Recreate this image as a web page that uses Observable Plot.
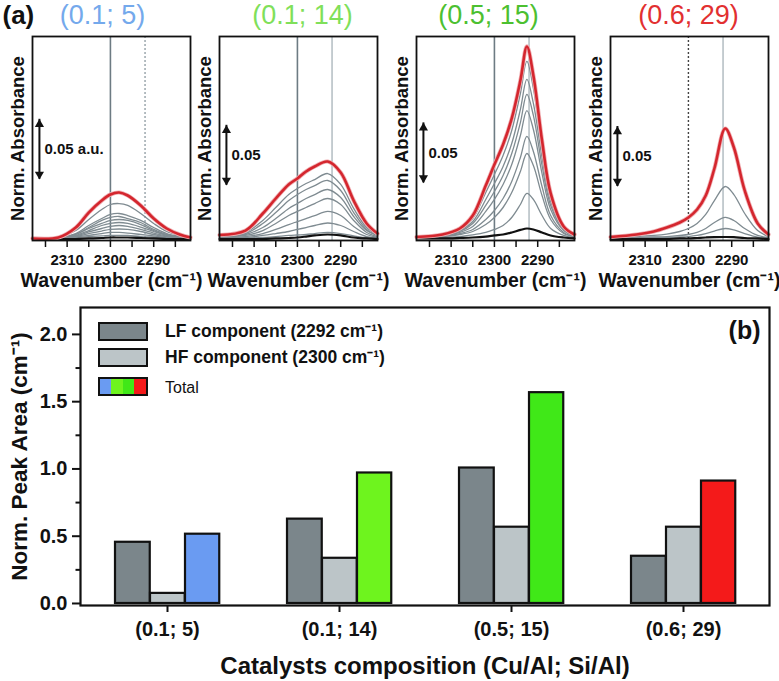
<!DOCTYPE html>
<html><head><meta charset="utf-8">
<script src="https://cdn.jsdelivr.net/npm/d3@7"></script>
<script src="https://cdn.jsdelivr.net/npm/@observablehq/plot@0.6"></script>
<style>
body{margin:0;background:#fff;font-family:"Liberation Sans",Arial,sans-serif;}
#root{position:relative;width:779px;height:681px;overflow:hidden;background:#fff;}
#root svg{position:absolute;overflow:visible;}
.sw{position:absolute;left:98px;width:46px;height:15px;border:2px solid #111;}
.lt{position:absolute;left:165px;font-size:17.5px;font-weight:bold;color:#111;white-space:nowrap;line-height:1;}
</style></head><body><div id="root"></div>
<script>
// ---------- (a) spectra: wavenumber grids (cm-1) ----------
const gridA = [2318, 2312, 2308, 2305, 2302, 2300, 2298, 2296, 2293, 2290, 2287, 2284, 2281.5];
const gridC = [2318, 2312, 2308, 2305, 2302, 2300, 2298, 2296, 2294, 2292.5, 2291, 2289, 2287, 2284, 2281.5];
const gridD = [2318, 2312, 2308, 2305, 2302, 2300, 2298, 2296, 2294, 2291.5, 2289.5, 2287, 2284, 2281.5];
const xTicks = [2315, 2310, 2305, 2300, 2295, 2290, 2285];

// absorbance in milli a.u. (0.05 a.u. = 50)
const p1Red = [1.7,2.5,10.8,23.3,33.3,38.3,40,37.5,29.2,18.3,10,5,2.5];
const p1Grays = [
  [1.7,2.5,8.3,17.5,25.8,30,30.8,29.2,22.5,14.2,7.5,4.2,2.5],
  [1.7,2.1,5.8,12.5,18.3,21.7,22.5,20.8,16.7,10.8,5.8,3.3,2.1],
  [1.7,2.1,5.4,10.8,16.7,19.2,20,18.3,15,9.2,5,3.3,2.1],
  [1.7,2.1,5,10,14.2,16.7,17.5,16.7,13.3,8.3,4.6,2.9,2.1],
  [1.7,2.1,4.2,8.3,12.5,14.2,15,14.2,11.2,7.5,4.2,2.5,2.1],
  [1.7,2.1,3.8,7.1,10,11.7,12.5,11.7,9.2,6.2,3.8,2.5,2.1],
  [1.7,2.1,3.3,5.8,7.9,9.2,9.6,9.2,7.5,5,3.3,2.5,2.1],
  [1.7,2.1,2.9,4.2,5.8,6.7,6.7,6.2,5,3.8,2.5,2.1,1.7],
  [1.7,1.7,2.5,3.3,3.8,4.2,4.2,4.2,3.3,2.9,2.1,1.7,1.7]
];
const p1Black = [1.2,1.2,1.2,1.7,2.1,2.5,2.5,2.5,2.1,1.7,1.2,1.2,1.2];

const p2Red = [4.6,8.3,22.5,35,46.7,51.7,57.5,61.7,65.8,56.7,33.3,14.2,5.8];
const p2Grays = [
  [4.2,6.7,16.7,27.5,38.3,43.3,47.5,50.8,55.8,46.7,26.7,10.8,5],
  [3.8,5.8,14.2,23.3,33.3,38.3,42.5,45.8,50,41.7,23.3,9.2,4.2],
  [3.3,5,10.8,18.3,26.7,30.8,35,38.3,42.5,35.8,20,8.3,4.2],
  [2.9,4.2,8.3,14.2,20.8,24.2,27.5,30.8,35,30,16.7,6.7,3.3],
  [2.5,3.3,5.8,9.2,13.3,15.8,18.3,20.8,24.2,20.8,11.7,5,2.5],
  [2.1,2.5,4.2,5.8,7.5,9.2,10.8,12.5,14.6,12.5,7.5,3.3,2.1],
  [1.7,2.1,2.5,3.3,4.2,4.6,5,5.8,6.7,5.8,3.8,2.1,1.7]
];
const p2Black = [1.2,1.2,1.2,1.7,2.1,2.5,3.3,4.2,5,4.2,2.5,1.7,1.2];

const p3Red = [2.9,5,10,20.8,45.8,63.3,80,101.7,133.3,161.7,137.5,83.3,39.2,11.7,5];
const p3Grays = [
  [2.9,4.6,9.2,18.3,40,55,70.8,91.7,122.5,149.2,126.7,76.7,35.8,10.8,4.6],
  [2.5,4.2,8.3,15.8,34.2,47.5,61.7,80.8,109.2,134.2,114.2,69.2,32.5,10,4.2],
  [2.5,4.2,7.5,14.2,29.2,40.8,54.2,72.5,98.3,121.7,104.2,62.5,29.2,9.2,4.2],
  [2.5,3.8,6.7,11.7,24.2,34.2,46.7,63.3,87.5,108.3,92.5,55.8,25.8,8.3,3.8],
  [2.5,3.3,5.8,9.2,17.5,25,35,49.2,69.2,86.7,74.2,45,20.8,6.7,3.3],
  [2.5,3.3,5,7.5,13.3,19.2,27.5,40,57.5,72.5,62.5,37.5,17.5,5.8,3.3],
  [2.1,2.5,3.3,4.6,6.7,9.2,12.5,19.2,30,39.2,34.2,20.8,10,4.2,2.5]
];
const p3Black = [1.7,1.7,2.1,2.5,3.3,4.2,5,6.7,8.8,10,9.2,6.7,4.2,2.5,1.7];

const p4Red = [2.9,5,7.5,10.8,15,19.2,25.8,37.5,60,93.3,77.5,41.7,14.2,5];
const p4Grays = [
  [2.5,3.3,4.2,5.4,7.5,10,14.2,21.7,33.3,45,38.3,22.5,8.3,3.3],
  [2.1,2.5,2.9,3.3,4.2,5,6.7,10,15,19.2,16.7,10,4.2,2.5],
  [1.7,2.1,2.5,2.5,2.9,3.3,4.2,5.8,7.9,10,8.8,5.8,2.9,2.1]
];
const p4Black = [1.2,1.2,1.2,1.2,1.7,1.7,2.1,2.5,2.8,2.9,2.8,2.1,1.7,1.2];

const panelTitles = ["(0.1; 5)", "(0.1; 14)", "(0.5; 15)", "(0.6; 29)"];
const scaleBarLabels = ["0.05 a.u.", "0.05", "0.05", "0.05"];
const scaleBarLow = [51, 46, 48, 45];   // mAU, bar spans 50 mAU = 0.05 a.u.
const scaleBarSpan = 50;

// ---------- (b) peak areas ----------
const categories = ["(0.1; 5)", "(0.1; 14)", "(0.5; 15)", "(0.6; 29)"];
const lfArea = [0.455, 0.627, 1.007, 0.351];
const hfArea = [0.075, 0.336, 0.567, 0.567];
const totalArea = [0.515, 0.970, 1.567, 0.910];
const seriesLabels = ["LF component (2292 cm⁻¹)", "HF component (2300 cm⁻¹)", "Total"];

// ---------- styles ----------
const FONT = '"Liberation Sans", Arial, sans-serif';
const titleColors = ["#74a9ec", "#7fe05a", "#4cc030", "#e23030"];
const totalColors = ["#6a9bf2", "#6ef41e", "#40e818", "#f41a1a"];
const refStyles = {
  dark: {stroke: "#6d7b83", strokeWidth: 1.6},
  light: {stroke: "#b8c1c6", strokeWidth: 1.6},
  lightDot: {stroke: "#a3adb3", strokeWidth: 1.6, strokeDasharray: "2,2"},
  darkDot: {stroke: "#444", strokeWidth: 1.4, strokeDasharray: "2,2"}
};
const panelRefs = [
  [[2300, "dark"], [2292, "lightDot"]],
  [[2300, "dark"], [2292, "light"]],
  [[2300, "dark"], [2292, "light"]],
  [[2300, "darkDot"], [2292, "light"]]
];
const panelData = [
  {grid: gridA, red: p1Red, grays: p1Grays, black: p1Black},
  {grid: gridA, red: p2Red, grays: p2Grays, black: p2Black},
  {grid: gridC, red: p3Red, grays: p3Grays, black: p3Black},
  {grid: gridD, red: p4Red, grays: p4Grays, black: p4Black}
];
const panelLeft = [0, 187, 384, 578];
const titleDx = [-9, 4, -7, -1];

const root = document.getElementById("root");
const T = {lineAnchor: "middle", textAnchor: "middle"};

panelData.forEach((p, i) => {
  const rows = (arr, k) => arr.map((a, j) => ({wn: p.grid[j], a, k}));
  const grayRows = p.grays.flatMap((g, k) => rows(g, k));
  const lo = scaleBarLow[i], hi = lo + scaleBarSpan;
  const sbx = 2316.4;
  const svg = Plot.plot({
    width: 195, height: 290,
    marginLeft: 32, marginRight: 5, marginTop: 36, marginBottom: 50,
    style: {fontFamily: FONT, background: "none", overflow: "visible", color: "#111"},
    x: {domain: [2318, 2281.5], axis: null},
    y: {domain: [0, 170], axis: null},
    marks: [
      ...panelRefs[i].map(([x, st]) => Plot.ruleX([x], refStyles[st])),
      Plot.line(grayRows, {x: "wn", y: "a", z: "k", stroke: "#7f8b91", strokeWidth: 1.3, curve: "catmull-rom"}),
      Plot.line(rows(p.black, 0), {x: "wn", y: "a", stroke: "#111", strokeWidth: 2.2, curve: "catmull-rom"}),
      Plot.line(rows(p.red, 0), {x: "wn", y: "a", stroke: "#f0b0b4", strokeWidth: 4.2, curve: "catmull-rom"}),
      Plot.line(rows(p.red, 0), {x: "wn", y: "a", stroke: "#d4262e", strokeWidth: 2.6, curve: "catmull-rom"}),
      Plot.frame({stroke: "#111", strokeWidth: 1.8}),
      Plot.axisX({ticks: xTicks, tickFormat: d => d % 10 === 0 ? String(d) : "", tickSize: 7, tickPadding: 7,
        fontSize: 15, fontWeight: "bold", strokeWidth: 1.5, label: null}),
      Plot.text(["Wavenumber (cm⁻¹)"], {...T, frameAnchor: "bottom", dy: 40, fontSize: 19.5, fontWeight: "bold"}),
      Plot.text([panelTitles[i]], {...T, frameAnchor: "top", dx: titleDx[i], dy: -21, fill: titleColors[i], fontSize: 27, fontWeight: "normal"}),
      Plot.text(["Norm. Absorbance"], {...T, frameAnchor: "left", rotate: -90, dx: -14, fontSize: 18.5, fontWeight: "bold"}),
      Plot.ruleX([{x: sbx, lo, hi}], {x: "x", y1: "lo", y2: "hi", stroke: "#111", strokeWidth: 2}),
      Plot.dot([{x: sbx, y: hi}], {x: "x", y: "y", symbol: "triangle", r: 3.4, fill: "#111", stroke: "none", dy: 5}),
      Plot.dot([{x: sbx, y: lo}], {x: "x", y: "y", symbol: "triangle", r: 3.4, fill: "#111", stroke: "none", rotate: 180, dy: -5}),
      Plot.text([{x: sbx, y: (lo + hi) / 2, t: scaleBarLabels[i]}], {x: "x", y: "y", text: "t", dx: 5, textAnchor: "start", lineAnchor: "middle", fontSize: 15, fontWeight: "bold"}),
      ...(i === 0 ? [Plot.text(["(a)"], {frameAnchor: "top-left", dx: -30, dy: -21, textAnchor: "start", lineAnchor: "middle", fontSize: 26, fontWeight: "bold"})] : [])
    ]
  });
  svg.style.left = panelLeft[i] + "px";
  svg.style.top = "0px";
  root.appendChild(svg);
});

// ---------- bar chart ----------
const rowsOf = arr => categories.map((c, i) => ({cat: c, v: arr[i], i}));
const barStyle = {x: "cat", y: "v", stroke: "#111", strokeWidth: 2.2};
const bars = Plot.plot({
  width: 779, height: 391,
  marginLeft: 80, marginRight: 10, marginTop: 17, marginBottom: 76,
  style: {fontFamily: FONT, background: "none", overflow: "visible", color: "#111"},
  x: {type: "band", domain: categories, padding: 0, axis: null},
  y: {domain: [-0.015, 2.2], axis: null},
  marks: [
    Plot.barY(rowsOf(lfArea), {...barStyle, fill: "#7b868b", insetLeft: 34, insetRight: 103.25}),
    Plot.barY(rowsOf(hfArea), {...barStyle, fill: "#bcc5c8", insetLeft: 69, insetRight: 68.25}),
    Plot.barY(rowsOf(totalArea), {...barStyle, fill: d => totalColors[d.i], insetLeft: 104, insetRight: 33.75}),
    Plot.frame({stroke: "#111", strokeWidth: 2.2}),
    Plot.axisY({ticks: [0, 0.5, 1, 1.5, 2], tickFormat: d3.format(".1f"), tickSize: 8, tickPadding: 5,
      fontSize: 20, fontWeight: "bold", strokeWidth: 2, label: null}),
    Plot.axisY({ticks: [0.25, 0.75, 1.25, 1.75], tickFormat: () => "", tickSize: 4.5, strokeWidth: 2, label: null}),
    Plot.axisX({tickSize: 7, tickPadding: 9, fontSize: 20, fontWeight: "bold", strokeWidth: 2, label: null}),
    Plot.text(["Norm. Peak Area (cm⁻¹)"], {...T, frameAnchor: "left", rotate: -90, dx: -61, fontSize: 22.5, fontWeight: "bold"}),
    Plot.text(["Catalysts composition (Cu/Al; Si/Al)"], {...T, frameAnchor: "bottom", dy: 61, fontSize: 24, fontWeight: "bold"}),
    Plot.text(["(b)"], {frameAnchor: "top-right", dx: -9, dy: 23, textAnchor: "end", lineAnchor: "middle", fontSize: 25, fontWeight: "bold"})
  ]
});
bars.style.left = "0px";
bars.style.top = "290px";
root.appendChild(bars);

// ---------- legend ----------
const legendTops = [322, 348, 377];
const sw1 = document.createElement("div"); sw1.className = "sw"; sw1.style.top = legendTops[0] + "px"; sw1.style.background = "#7b868b";
const sw2 = document.createElement("div"); sw2.className = "sw"; sw2.style.top = legendTops[1] + "px"; sw2.style.background = "#bcc5c8";
const sw3 = document.createElement("div"); sw3.className = "sw"; sw3.style.top = legendTops[2] + "px";
sw3.style.background = `linear-gradient(to right, ${totalColors[0]} 0 25%, ${totalColors[1]} 25% 50%, ${totalColors[2]} 50% 75%, ${totalColors[3]} 75% 100%)`;
[sw1, sw2, sw3].forEach(d => root.appendChild(d));
seriesLabels.forEach((t, k) => {
  const d = document.createElement("div");
  d.className = "lt";
  d.textContent = t;
  d.style.top = (legendTops[k] + 1) + "px";
  if (k === 2) { d.style.fontWeight = "normal"; d.style.fontSize = "16px"; d.style.top = (legendTops[k] + 3) + "px"; }
  root.appendChild(d);
});
</script></body></html>
